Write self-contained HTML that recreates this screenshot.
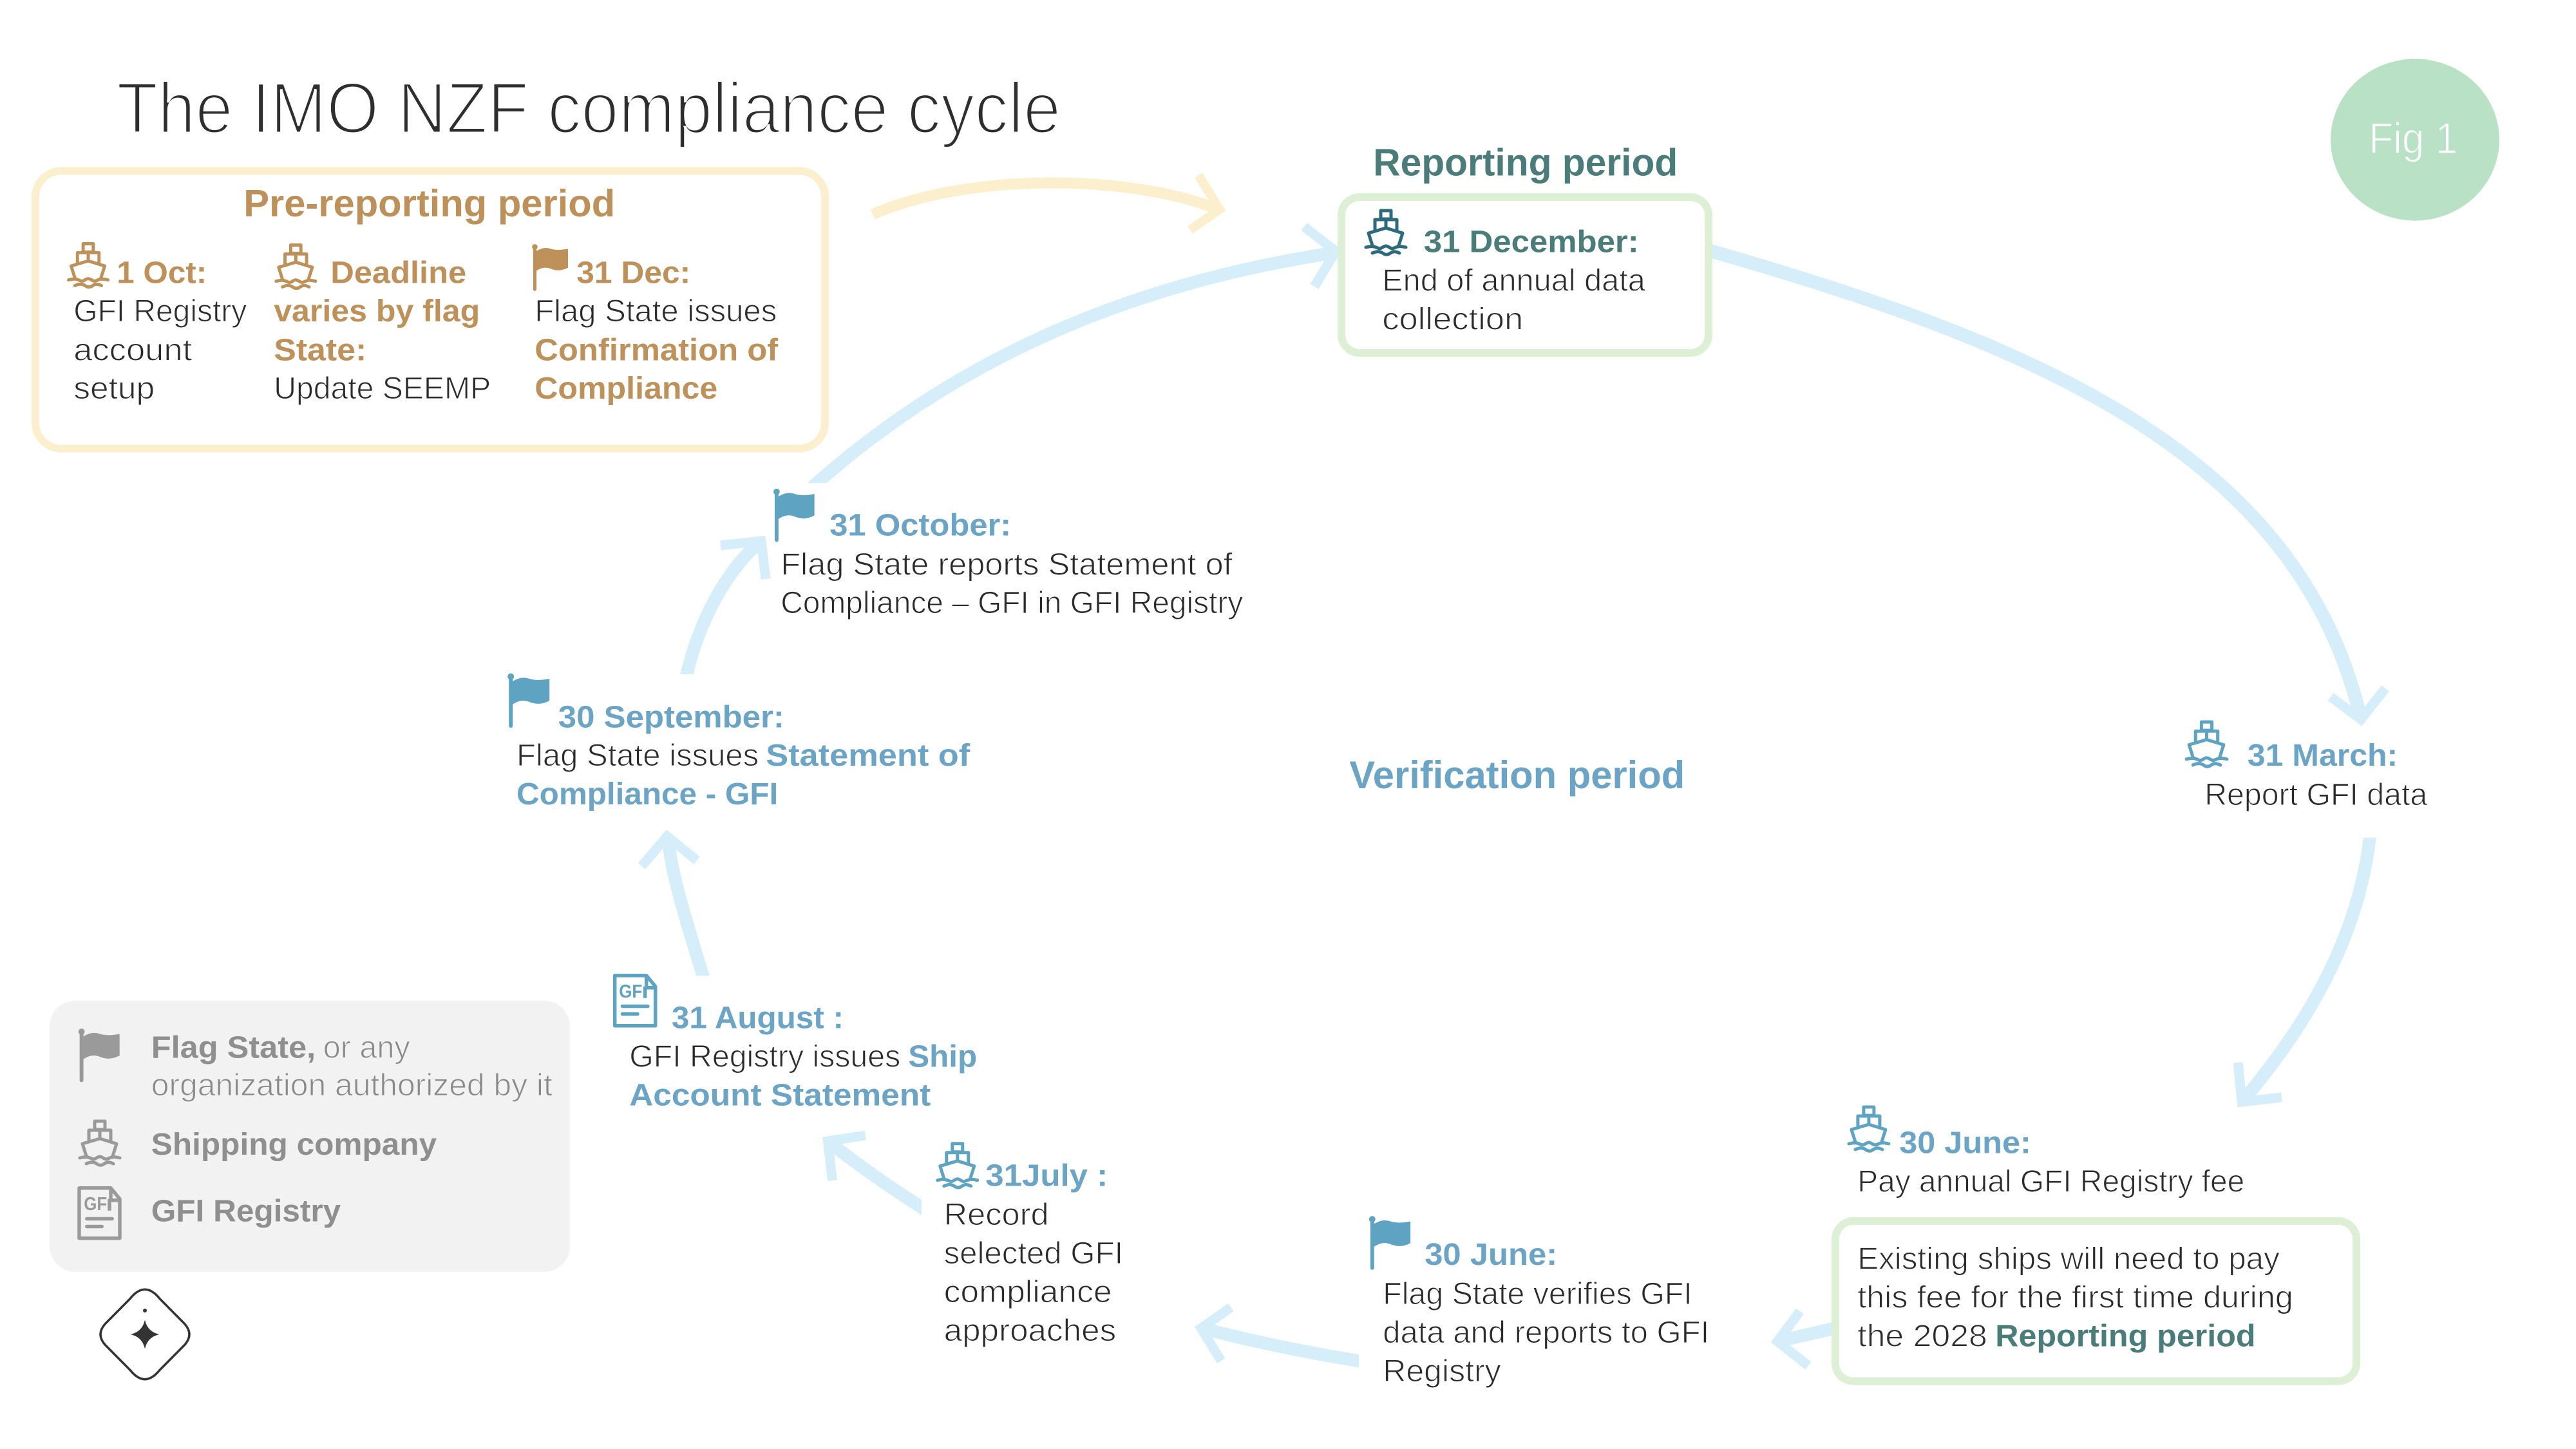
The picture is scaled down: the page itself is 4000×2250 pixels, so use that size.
<!DOCTYPE html>
<html>
<head>
<meta charset="utf-8">
<style>
html,body{margin:0;padding:0;background:#fff;width:4000px;height:2250px;overflow:hidden}
svg{display:block}
text{font-family:"Liberation Sans",sans-serif;font-size:48.5px;transform:translateX(-1.8px)}
.l{fill:#2b2b2b;stroke:#fff;stroke-width:1.1px}
.b{font-weight:bold}
.tan{fill:#bd9159}
.teal{fill:#4a7c7a}
.blue{fill:#6ba4c4}
.g{fill:#8f8f8f}
.gl{fill:#8a8a8a;stroke:#f2f2f2;stroke-width:1.1px}
.arc{fill:none;stroke:#d5eefa;stroke-width:20}
.head{fill:none;stroke:#d5eefa;stroke-width:15;stroke-miterlimit:10}
</style>
</head>
<body>
<svg xmlns="http://www.w3.org/2000/svg" width="4000" height="2250" viewBox="0 0 4000 2250">
<defs>
<symbol id="ship" viewBox="0 0 66 75" overflow="visible">
<g fill="none" stroke="currentColor" stroke-width="5" stroke-linejoin="round" stroke-linecap="round">
<rect x="25" y="3" width="16" height="13"/>
<path d="M16 32V17H50V32M33 16V29"/>
<path d="M6 38L33 30L59 38L53 57M6 38L12 57"/>
<path d="M2 60C10 58 14 58 20 61C26 64 28 58 33 58C38 58 40 64 46 61C52 58 56 58 64 60"/>
<path d="M12 69C18 66 24 66 28 69C32 72 36 72 40 69C44 66 48 66 54 69"/>
</g>
</symbol>
<symbol id="flag" viewBox="0 0 66 85" overflow="visible">
<circle cx="5" cy="5.5" r="5" fill="currentColor"/>
<rect x="2" y="6" width="6" height="79" rx="3" fill="currentColor"/>
<path d="M6 14C18 7 24 6 34 9C44 12 54 11 65 9V43C54 49 44 49 34 45C24 41 16 43 6 50Z" fill="currentColor"/>
</symbol>
<symbol id="doc" viewBox="0 0 69 84" overflow="visible">
<g fill="none" stroke="currentColor" stroke-width="5.5" stroke-linejoin="round">
<path d="M3 3H52L66 20V81H3Z"/>
<path d="M52 3V22H66M50 20V38"/>
</g>
<rect x="12" y="48" width="45" height="5.5" rx="2.7" fill="currentColor"/>
<rect x="12" y="60" width="29" height="5.5" rx="2.7" fill="currentColor"/>
</symbol>
<clipPath id="c1"><rect x="0" y="0" width="4000" height="750"/></clipPath>
<clipPath id="c2"><rect x="0" y="0" width="4000" height="1047"/></clipPath>
<clipPath id="c3"><rect x="0" y="0" width="4000" height="1515"/></clipPath>
<clipPath id="c4"><rect x="0" y="0" width="1431" height="2250"/></clipPath>
<clipPath id="c5"><rect x="0" y="0" width="2110" height="2250"/></clipPath>
<clipPath id="c6"><rect x="0" y="1300.7" width="4000" height="950"/></clipPath>
</defs>

<!-- title -->
<text x="183" y="206.6" style="font-size:112px;fill:#2e2e2e;stroke:#fff;stroke-width:4px" textLength="1466" lengthAdjust="spacingAndGlyphs">The IMO NZF compliance cycle</text>

<!-- fig badge -->
<ellipse cx="3750" cy="217" rx="131" ry="125.6" fill="#b9e1c5"/>
<text x="3680" y="238" style="font-size:68px;fill:#fff;stroke:#b9e1c5;stroke-width:1.6px" textLength="138" lengthAdjust="spacingAndGlyphs">Fig 1</text>

<!-- arrows -->
<path fill="none" stroke="#fcefcd" stroke-width="17" d="M1355 333C1500 269 1750 269 1891 325"/>
<polyline fill="none" stroke="#fcefcd" stroke-width="14" stroke-miterlimit="10" points="1861,272 1894,325 1848,357"/>

<path class="arc" clip-path="url(#c1)" d="M1240 776C1450 580 1720 445 2075 392"/>
<polyline class="head" points="2025,352 2074,390 2041,445"/>

<path class="arc" style="stroke-width:21px" d="M2640 385C3150 530 3570 700 3666 1117"/>
<polyline class="head" points="3619,1082 3666,1117 3704,1069"/>

<path class="arc" clip-path="url(#c6)" d="M3682 1280C3670 1420 3610 1560 3481 1711"/>
<polyline class="head" points="3475.3,1650 3481,1711 3543,1704"/>

<path class="arc" d="M2860 2060L2760 2083"/>
<polyline class="head" points="2795,2036 2760,2083 2808,2120.7"/>

<path class="arc" clip-path="url(#c5)" d="M2140 2118Q1990 2095 1865 2062"/>
<polyline class="head" points="1911.4,2030 1865,2062.5 1896,2113"/>

<path class="arc" clip-path="url(#c4)" d="M1460 1893Q1370 1838 1285 1772"/>
<polyline class="head" points="1344,1763 1285.5,1772 1292.5,1833"/>

<path class="arc" clip-path="url(#c3)" d="M1102 1550C1066 1430 1042 1360 1037 1298"/>
<polyline class="head" points="996.4,1345 1036,1298.7 1082,1336"/>

<path class="arc" clip-path="url(#c2)" d="M1062 1070C1075 990 1120 890 1182 840"/>
<polyline class="head" points="1119,847 1182,840 1189,899"/>

<!-- pre-reporting box -->
<rect x="55" y="265.5" width="1226" height="431" rx="40" fill="#fff" stroke="#fcefcd" stroke-width="12"/>
<text class="b tan" x="380" y="336" style="font-size:59px" textLength="577" lengthAdjust="spacingAndGlyphs">Pre-reporting period</text>
<use href="#ship" x="104.5" y="375" width="65" height="75" color="#bd9159"/>
<use href="#ship" x="426.8" y="377" width="65" height="75" color="#bd9159"/>
<use href="#flag" x="826" y="378.7" width="57" height="73" color="#bd9159"/>
<text class="b tan" x="183" y="439.4" textLength="140" lengthAdjust="spacingAndGlyphs">1 Oct:</text>
<text class="b tan" x="515" y="439.4" textLength="211" lengthAdjust="spacingAndGlyphs">Deadline</text>
<text class="b tan" x="897" y="439.4" textLength="177" lengthAdjust="spacingAndGlyphs">31 Dec:</text>
<text class="l" x="116" y="499" textLength="269" lengthAdjust="spacingAndGlyphs">GFI Registry</text>
<text class="b tan" x="427" y="499" textLength="320" lengthAdjust="spacingAndGlyphs">varies by flag</text>
<text class="l" x="832" y="499" textLength="376" lengthAdjust="spacingAndGlyphs">Flag State issues</text>
<text class="l" x="116" y="559.6" textLength="184" lengthAdjust="spacingAndGlyphs">account</text>
<text class="b tan" x="427" y="559.6" textLength="144" lengthAdjust="spacingAndGlyphs">State:</text>
<text class="b tan" x="832" y="559.6" textLength="378" lengthAdjust="spacingAndGlyphs">Confirmation of</text>
<text class="l" x="116" y="619" textLength="126" lengthAdjust="spacingAndGlyphs">setup</text>
<text class="l" x="427" y="619" textLength="337" lengthAdjust="spacingAndGlyphs">Update SEEMP</text>
<text class="b tan" x="832" y="619" textLength="284" lengthAdjust="spacingAndGlyphs">Compliance</text>

<!-- reporting period -->
<text class="b teal" x="2134" y="272.7" style="font-size:59px" textLength="473" lengthAdjust="spacingAndGlyphs">Reporting period</text>
<rect x="2083" y="306" width="570" height="242" rx="28" fill="#fff" stroke="#ddf0d6" stroke-width="12"/>
<use href="#ship" x="2119" y="324" width="66" height="75" color="#2d6a7b"/>
<text class="b teal" x="2212.5" y="391.7" textLength="334" lengthAdjust="spacingAndGlyphs">31 December:</text>
<text class="l" x="2148" y="451.7" textLength="408.6" lengthAdjust="spacingAndGlyphs">End of annual data</text>
<text class="l" x="2148" y="511.7" textLength="219" lengthAdjust="spacingAndGlyphs">collection</text>

<!-- verification -->
<text class="b blue" x="2097" y="1224" style="font-size:60px" textLength="521" lengthAdjust="spacingAndGlyphs">Verification period</text>

<!-- 31 March -->
<use href="#ship" x="3393" y="1118" width="67" height="76" color="#5ea3c1"/>
<text class="b blue" x="3491.6" y="1189" textLength="233.4" lengthAdjust="spacingAndGlyphs">31 March:</text>
<text class="l" x="3425" y="1250" textLength="346" lengthAdjust="spacingAndGlyphs">Report GFI data</text>

<!-- 30 June ship -->
<use href="#ship" x="2868.4" y="1716" width="67" height="75" color="#5ea3c1"/>
<text class="b blue" x="2951" y="1790.7" textLength="204.6" lengthAdjust="spacingAndGlyphs">30 June:</text>
<text class="l" x="2886" y="1850.7" textLength="601" lengthAdjust="spacingAndGlyphs">Pay annual GFI Registry fee</text>
<rect x="2850" y="1896" width="809" height="248.7" rx="28" fill="#fff" stroke="#ddf0d6" stroke-width="12"/>
<text class="l" x="2886" y="1970.7" textLength="655.6" lengthAdjust="spacingAndGlyphs">Existing ships will need to pay</text>
<text class="l" x="2886" y="2030.7" textLength="676.6" lengthAdjust="spacingAndGlyphs">this fee for the first time during</text>
<text class="l" x="2886" y="2090.7" textLength="201.6" lengthAdjust="spacingAndGlyphs">the 2028</text>
<text class="b teal" x="3100" y="2090.7" textLength="404.4" lengthAdjust="spacingAndGlyphs">Reporting period</text>

<!-- 30 June flag -->
<use href="#flag" x="2125" y="1887.7" width="67" height="84" color="#5ea3c1"/>
<text class="b blue" x="2214" y="1964" textLength="206" lengthAdjust="spacingAndGlyphs">30 June:</text>
<text class="l" x="2149" y="2025" textLength="480.5" lengthAdjust="spacingAndGlyphs">Flag State verifies GFI</text>
<text class="l" x="2149" y="2085" textLength="507" lengthAdjust="spacingAndGlyphs">data and reports to GFI</text>
<text class="l" x="2149" y="2145" textLength="183.5" lengthAdjust="spacingAndGlyphs">Registry</text>

<!-- 31 July -->
<use href="#ship" x="1453.5" y="1772.7" width="66.5" height="75" color="#5ea3c1"/>
<text class="b blue" x="1532" y="1841.7" textLength="190" lengthAdjust="spacingAndGlyphs">31July :</text>
<text class="l" x="1467.4" y="1902" textLength="163" lengthAdjust="spacingAndGlyphs">Record</text>
<text class="l" x="1467.4" y="1962" textLength="278.6" lengthAdjust="spacingAndGlyphs">selected GFI</text>
<text class="l" x="1467.4" y="2022" textLength="261" lengthAdjust="spacingAndGlyphs">compliance</text>
<text class="l" x="1467.4" y="2082" textLength="267.6" lengthAdjust="spacingAndGlyphs">approaches</text>

<!-- 31 August -->
<use href="#doc" x="951.7" y="1511.7" width="69" height="84" color="#5ea3c1"/>
<text class="b" x="963" y="1549" style="font-size:29px;fill:#5ea3c1" textLength="36" lengthAdjust="spacingAndGlyphs">GF</text>
<text class="b blue" x="1044.7" y="1596.7" textLength="267" lengthAdjust="spacingAndGlyphs">31 August :</text>
<text class="l" x="979" y="1656.7" textLength="421" lengthAdjust="spacingAndGlyphs">GFI Registry issues</text>
<text class="b blue" x="1412" y="1656.7" textLength="107" lengthAdjust="spacingAndGlyphs">Ship</text>
<text class="b blue" x="979" y="1716.7" textLength="468" lengthAdjust="spacingAndGlyphs">Account Statement</text>

<!-- 30 Sept -->
<use href="#flag" x="788" y="1045" width="66.4" height="85" color="#5ea3c1"/>
<text class="b blue" x="868.6" y="1129.3" textLength="351" lengthAdjust="spacingAndGlyphs">30 September:</text>
<text class="l" x="803.8" y="1189" textLength="376.2" lengthAdjust="spacingAndGlyphs">Flag State issues</text>
<text class="b blue" x="1191" y="1189" textLength="317" lengthAdjust="spacingAndGlyphs">Statement of</text>
<text class="b blue" x="803.8" y="1249" textLength="406.2" lengthAdjust="spacingAndGlyphs">Compliance - GFI</text>

<!-- 31 Oct -->
<use href="#flag" x="1201" y="757" width="64.6" height="85.7" color="#5ea3c1"/>
<text class="b blue" x="1290" y="831.7" textLength="282" lengthAdjust="spacingAndGlyphs">31 October:</text>
<text class="l" x="1214" y="892.7" textLength="701.5" lengthAdjust="spacingAndGlyphs">Flag State reports Statement of</text>
<text class="l" x="1214" y="952" textLength="718" lengthAdjust="spacingAndGlyphs">Compliance – GFI in GFI Registry</text>

<!-- legend -->
<rect x="77" y="1553.8" width="808" height="421.2" rx="40" fill="#f2f2f2"/>
<use href="#flag" x="121.7" y="1596" width="65" height="85" color="#9a9a9a"/>
<use href="#ship" x="122" y="1738" width="66" height="75" color="#9a9a9a"/>
<use href="#doc" x="120" y="1841.7" width="69" height="84" color="#9a9a9a"/>
<text class="b" x="132" y="1879" style="font-size:29px;fill:#9a9a9a" textLength="36" lengthAdjust="spacingAndGlyphs">GF</text>
<text class="b g" x="236.6" y="1642.3" textLength="255.4" lengthAdjust="spacingAndGlyphs">Flag State,</text>
<text class="gl" x="503.5" y="1642.3" textLength="135" lengthAdjust="spacingAndGlyphs">or any</text>
<text class="gl" x="236.6" y="1701" textLength="623" lengthAdjust="spacingAndGlyphs">organization authorized by it</text>
<text class="b g" x="236.6" y="1793" textLength="443.4" lengthAdjust="spacingAndGlyphs">Shipping company</text>
<text class="b g" x="236.6" y="1896.4" textLength="294.4" lengthAdjust="spacingAndGlyphs">GFI Registry</text>

<!-- logo -->
<path d="M202 2016.6Q225 1988 248 2016.6L287 2056Q301 2072 287 2088L248 2127.4Q225 2156 202 2127.4L163 2088Q149 2072 163 2056Z" fill="#fff" stroke="#333" stroke-width="3.5"/>
<circle cx="225" cy="2035" r="3" fill="#333"/>
<path d="M225 2049.5Q229 2068 247.5 2072Q229 2076 225 2094.5Q221 2076 202.5 2072Q221 2068 225 2049.5Z" fill="#333"/>
</svg>
</body>
</html>
